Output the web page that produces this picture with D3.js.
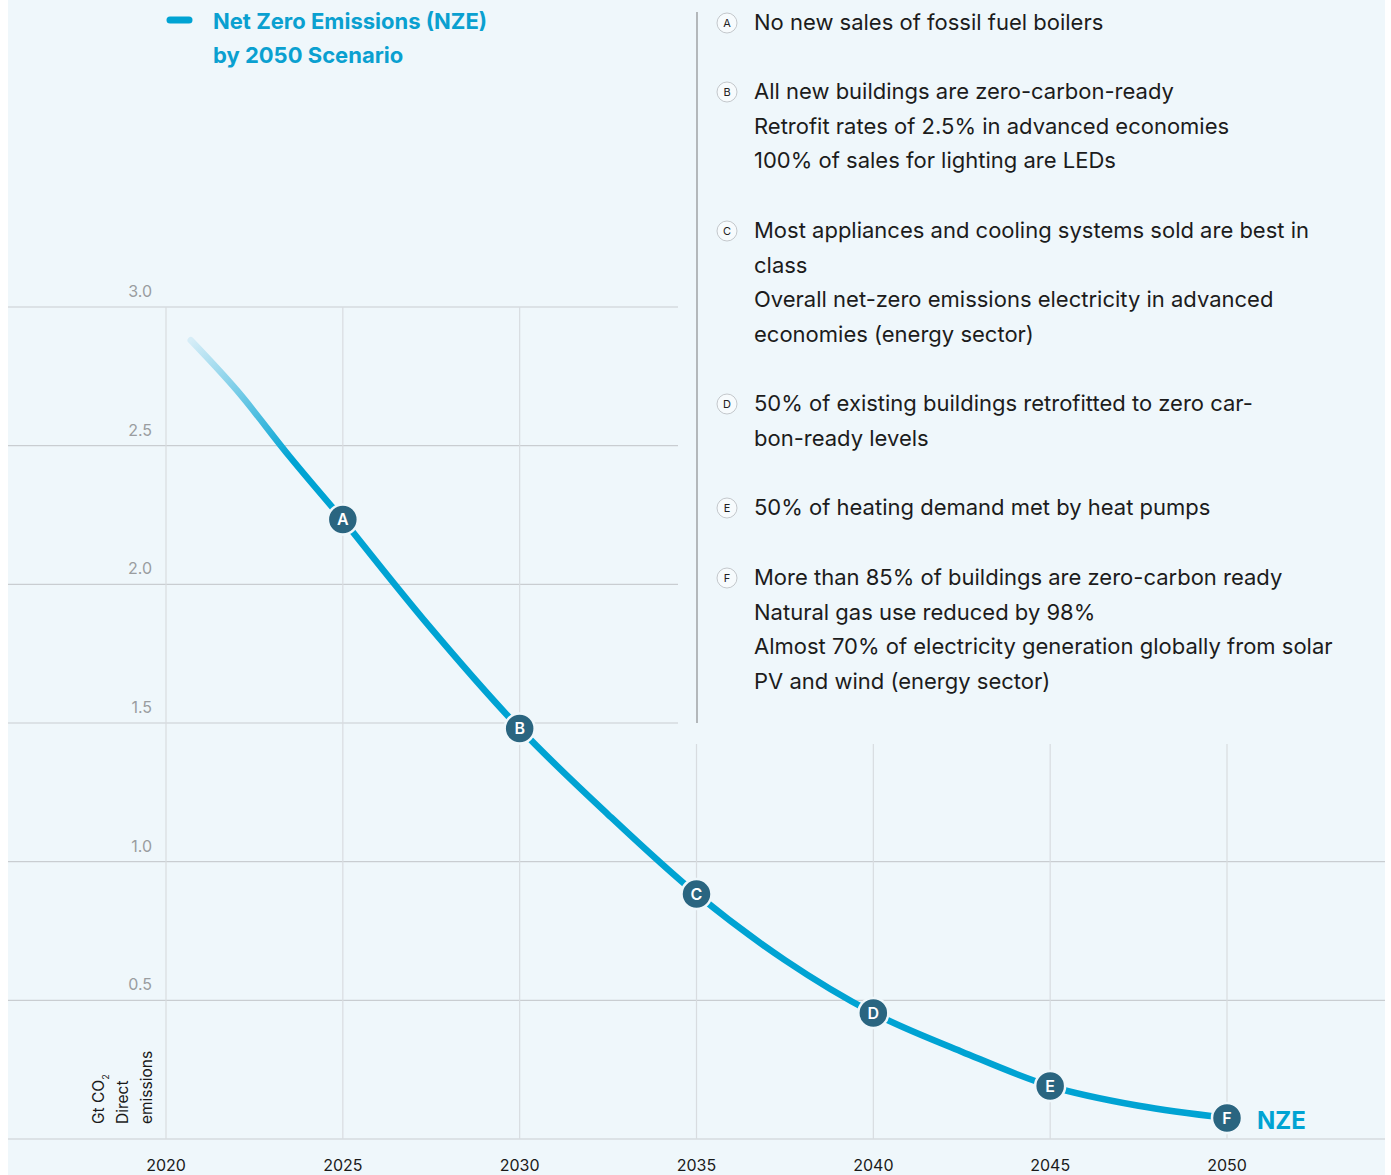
<!DOCTYPE html>
<html>
<head>
<meta charset="utf-8">
<script src="https://cdn.jsdelivr.net/npm/d3@7"></script>
<style>
  html, body { margin: 0; padding: 0; background: #fff; }
  svg { display: block; }
</style>
</head>
<body>
<div id="chart"></div>
<script>
// NZE direct emissions, Gt CO2
const years = [2020.7, 2022, 2023.5, 2025, 2027.5, 2030, 2032.5, 2035, 2037.5, 2040, 2042.5, 2045, 2047.5, 2050];
const values = [2.88, 2.70, 2.46, 2.234, 1.84, 1.48, 1.17, 0.883, 0.645, 0.454, 0.315, 0.191, 0.12, 0.076];

// milestone markers
const milestoneYears = [2025, 2030, 2035, 2040, 2045, 2050];
const milestoneLetters = ["A", "B", "C", "D", "E", "F"];

const xTicks = [2020, 2025, 2030, 2035, 2040, 2045, 2050];
const yTicks = [0.5, 1.0, 1.5, 2.0, 2.5, 3.0];

// milestone descriptions, one line per entry
const notes = [
  ["No new sales of fossil fuel boilers"],
  ["All new buildings are zero-carbon-ready", "Retrofit rates of 2.5% in advanced economies", "100% of sales for lighting are LEDs"],
  ["Most appliances and cooling systems sold are best in", "class", "Overall net-zero emissions electricity in advanced", "economies (energy sector)"],
  ["50% of existing buildings retrofitted to zero  car-", "bon-ready levels"],
  ["50% of heating demand met by heat pumps"],
  ["More than 85% of buildings are zero-carbon ready", "Natural gas use reduced by 98%", "Almost 70% of electricity generation globally  from solar", "PV and wind (energy sector)"]
];

const width = 1391, height = 1175;
const blue = "#00a3d3";
const dark = "#2a6580";
const font = "Inter, 'Noto Sans', sans-serif";

const svg = d3.select("#chart").append("svg")
  .attr("width", width)
  .attr("height", height)
  .style("font-family", font);

svg.append("rect")
  .attr("x", 8).attr("y", 0)
  .attr("width", 1377).attr("height", height)
  .attr("fill", "#eff7fb");

const x = d3.scaleLinear().domain([2020, 2050]).range([166, 1227]);
const y = d3.scaleLinear().domain([0, 3]).range([1139, 307]);

// horizontal grid: upper lines stop short of the notes panel
svg.append("g")
  .selectAll("line")
  .data([0].concat(yTicks))
  .join("line")
  .attr("x1", 8)
  .attr("x2", d => d >= 1.5 ? 678 : 1385)
  .attr("y1", d => y(d)).attr("y2", d => y(d))
  .attr("stroke", "#c9cdd1")
  .attr("stroke-width", 1.2);

// vertical grid: later years start below the notes panel
svg.append("g")
  .selectAll("line")
  .data(xTicks)
  .join("line")
  .attr("x1", d => x(d)).attr("x2", d => x(d))
  .attr("y1", d => d >= 2035 ? 744 : y(3))
  .attr("y2", y(0))
  .attr("stroke", "#d8dce0")
  .attr("stroke-width", 1.2);

// y tick labels
svg.append("g")
  .selectAll("text")
  .data(yTicks)
  .join("text")
  .attr("x", 152)
  .attr("y", d => y(d) - 10)
  .attr("text-anchor", "end")
  .attr("font-size", 16)
  .attr("fill", "#9a9da0")
  .text(d => d.toFixed(1));

// x tick labels
svg.append("g")
  .selectAll("text")
  .data(xTicks)
  .join("text")
  .attr("x", d => x(d))
  .attr("y", 1171)
  .attr("text-anchor", "middle")
  .attr("font-size", 16)
  .attr("fill", "#1a1a1a")
  .text(d => d);

// axis title
const title = svg.append("text")
  .attr("transform", "translate(104,1124) rotate(-90)")
  .attr("font-size", 15.5)
  .attr("fill", "#1a1a1a");
title.append("tspan").attr("x", 0).attr("y", 0).text("Gt CO");
title.append("tspan").attr("font-size", 9).attr("dy", 5).text("2");
title.append("tspan").attr("x", 0).attr("y", 24).text("Direct");
title.append("tspan").attr("x", 0).attr("y", 48).text("emissions");

// fade-in gradient at the start of the line
const defs = svg.append("defs");
const grad = defs.append("linearGradient")
  .attr("id", "fade")
  .attr("gradientUnits", "userSpaceOnUse")
  .attr("x1", x(2020.7)).attr("y1", y(2.88))
  .attr("x2", x(2023.6)).attr("y2", y(2.45));
grad.append("stop").attr("offset", 0).attr("stop-color", "#d6edf7");
grad.append("stop").attr("offset", 1).attr("stop-color", blue);

// faded part drawn with the gradient, rest solid
const split = 3;
const lineFrom = start => d3.line()
  .x((d, i) => x(years[i + start]))
  .y(d => y(d))
  .curve(d3.curveMonotoneX);

svg.append("path")
  .attr("d", lineFrom(0)(values.slice(0, split + 1)))
  .attr("fill", "none")
  .attr("stroke", "url(#fade)")
  .attr("stroke-width", 6.5)
  .attr("stroke-linecap", "round");

svg.append("path")
  .attr("d", lineFrom(split)(values.slice(split)))
  .attr("fill", "none")
  .attr("stroke", blue)
  .attr("stroke-width", 6.5)
  .attr("stroke-linecap", "round");

// milestone markers on the line
const valueAt = yr => values[years.indexOf(yr)];
const marks = svg.append("g")
  .selectAll("g")
  .data(milestoneYears)
  .join("g")
  .attr("transform", d => `translate(${x(d)},${y(valueAt(d))})`);
marks.append("circle")
  .attr("r", 15)
  .attr("fill", dark)
  .attr("stroke", "#eff7fb")
  .attr("stroke-width", 2.5);
marks.append("text")
  .attr("text-anchor", "middle")
  .attr("dy", "0.36em")
  .attr("font-size", 16)
  .attr("font-weight", 600)
  .attr("fill", "#fff")
  .text((d, i) => milestoneLetters[i]);

// NZE end label
svg.append("text")
  .attr("x", x(2050) + 30)
  .attr("y", y(valueAt(2050)) + 11)
  .attr("font-size", 24)
  .attr("font-weight", 700)
  .attr("fill", blue)
  .text("NZE");

// legend
svg.append("line")
  .attr("x1", 170).attr("x2", 189)
  .attr("y1", 20).attr("y2", 20)
  .attr("stroke", blue)
  .attr("stroke-width", 7)
  .attr("stroke-linecap", "round");
svg.append("text")
  .attr("x", 213).attr("y", 29)
  .attr("font-size", 22)
  .attr("font-weight", 700)
  .attr("fill", "#0aa0d0")
  .text("Net Zero Emissions (NZE)");
svg.append("text")
  .attr("x", 213).attr("y", 63)
  .attr("font-size", 22)
  .attr("font-weight", 700)
  .attr("fill", "#0aa0d0")
  .text("by 2050 Scenario");

// divider between chart and notes
svg.append("line")
  .attr("x1", 697).attr("x2", 697)
  .attr("y1", 12).attr("y2", 723)
  .attr("stroke", "#8a8d90")
  .attr("stroke-width", 1.2);

// notes panel
const noteTop = [30, 99, 238, 411, 515, 585];
const lineGap = 34.6;
const noteG = svg.append("g")
  .selectAll("g")
  .data(notes)
  .join("g")
  .attr("transform", (d, i) => `translate(0,${noteTop[i]})`);
noteG.append("circle")
  .attr("cx", 727).attr("cy", -7)
  .attr("r", 10)
  .attr("fill", "#f7fbfd")
  .attr("stroke", "#c4c8cc")
  .attr("stroke-width", 1);
noteG.append("text")
  .attr("x", 727).attr("y", -7)
  .attr("dy", "0.36em")
  .attr("text-anchor", "middle")
  .attr("font-size", 11)
  .attr("fill", "#222")
  .text((d, i) => milestoneLetters[i]);
noteG.selectAll("text.note")
  .data(d => d)
  .join("text")
  .attr("class", "note")
  .attr("x", 754)
  .attr("y", (d, j) => j * lineGap)
  .attr("font-size", 22)
  .attr("fill", "#1c1c1c")
  .text(d => d);
</script>
</body>
</html>
